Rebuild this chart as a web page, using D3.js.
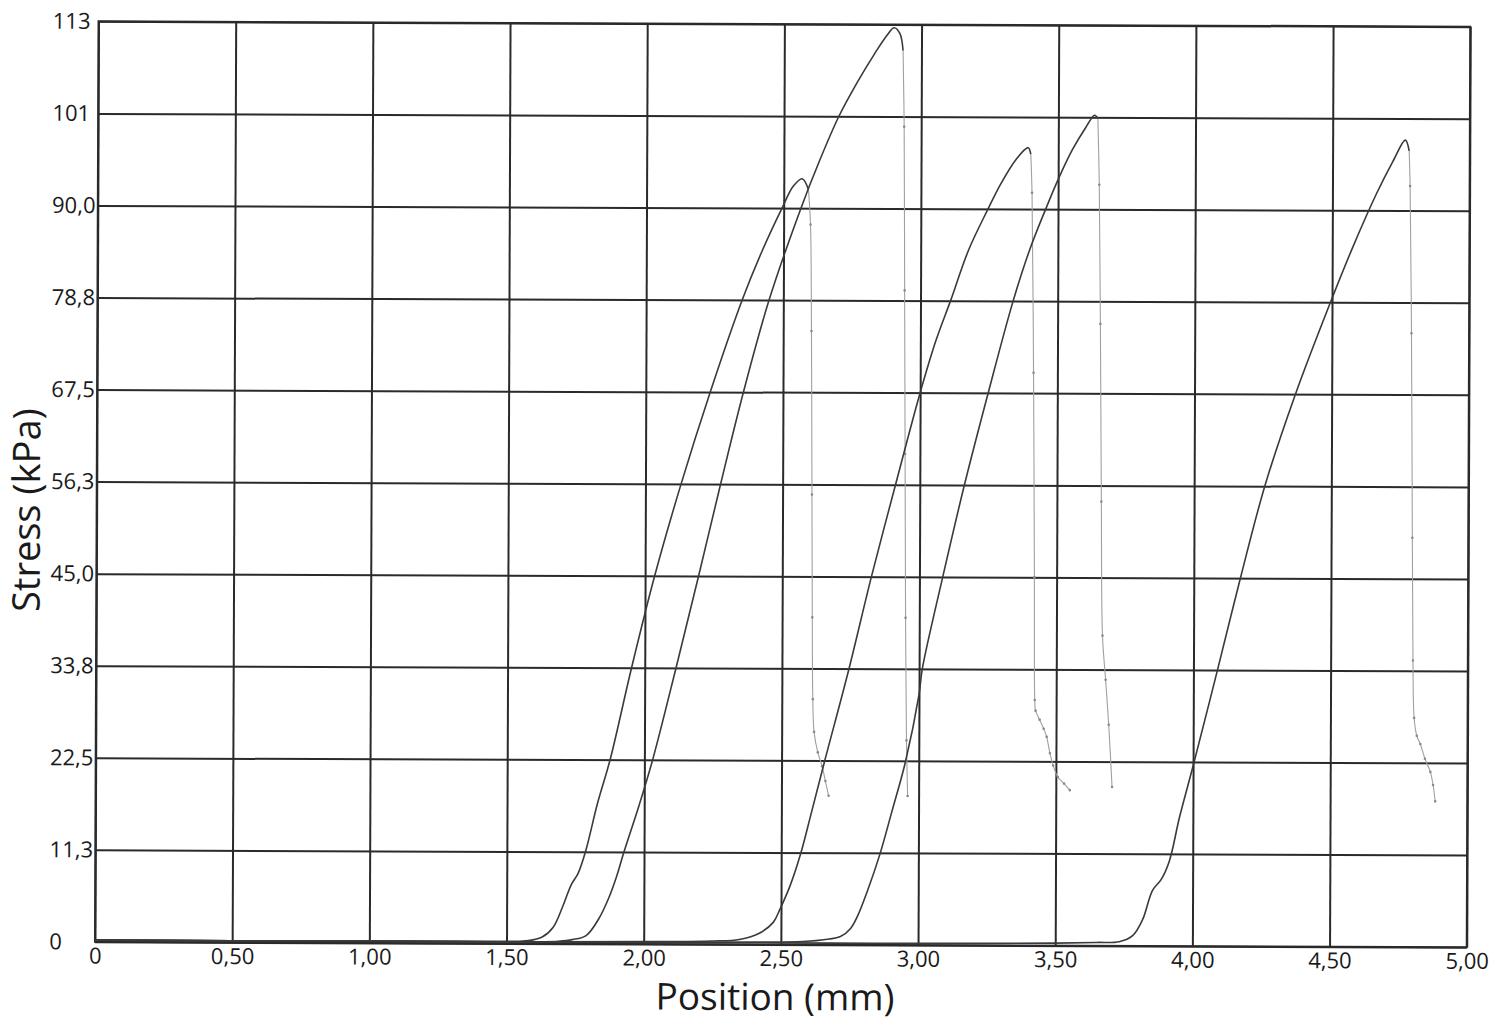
<!DOCTYPE html>
<html><head><meta charset="utf-8">
<script src="https://cdn.jsdelivr.net/npm/d3@7"></script>
<style>body{margin:0;background:#fff}svg{display:block}</style>
</head><body><svg id="c" width="1509" height="1021"></svg>
<script>
// ---- tick values and labels ----
const xTicks = [0, 0.5, 1.0, 1.5, 2.0, 2.5, 3.0, 3.5, 4.0, 4.5, 5.0];
const xTickLabels = ["0", "0,50", "1,00", "1,50", "2,00", "2,50", "3,00", "3,50", "4,00", "4,50", "5,00"];
const yTicks = [0, 11.25, 22.5, 33.75, 45, 56.25, 67.5, 78.75, 90, 101.25, 112.5];
const yTickLabels = ["0", "11,3", "22,5", "33,8", "45,0", "56,3", "67,5", "78,8", "90,0", "101", "113"];
const xTitle = "Position (mm)";
const yTitle = "Stress (kPa)";

// ---- series: [position mm, stress kPa], loading part and failure (drop) part ----
const loadA = [[0,0.2],[0.5,0.15],[1.0,0.2],[1.5,0.25],[1.58,0.35],[1.63,0.8],[1.67,2.0],[1.705,4.6],[1.735,7.2],[1.76,8.6],[1.787,11.3],[1.83,17.2],[1.875,22.5],[1.952,33.75],[2.035,45],[2.130,56.25],[2.235,67.5],[2.350,78.75],[2.42,84.6],[2.494,90],[2.535,92.7],[2.567,93.6],[2.59,92.3]];
const dropA = [[2.59,92.3],[2.598,88],[2.603,75],[2.607,55],[2.610,40],[2.613,30],[2.618,26],[2.632,23.5],[2.648,21.8],[2.66,20],[2.672,18.2]];

const loadB = [[0,0.25],[0.5,0.2],[1.0,0.2],[1.5,0.2],[1.689,0.3],[1.74,0.5],[1.79,1.0],[1.835,3.0],[1.872,5.6],[1.90,8.2],[1.927,11.25],[1.98,16.8],[2.03,22.5],[2.114,33.75],[2.195,45],[2.274,56.25],[2.356,67.5],[2.448,78.75],[2.563,90],[2.63,95.8],[2.700,101.25],[2.768,105.5],[2.829,108.9],[2.875,111.2],[2.900,112.1],[2.921,111.4],[2.933,109.3]];
const dropB = [[2.933,109.3],[2.938,100],[2.942,80],[2.946,60],[2.950,40],[2.955,25],[2.960,18.2]];

const loadC = [[0,0.2],[0.5,0.2],[1.0,0.25],[1.5,0.2],[2.0,0.3],[2.25,0.4],[2.349,0.6],[2.423,1.4],[2.472,2.7],[2.496,4.3],[2.533,7.2],[2.570,11.0],[2.607,15.8],[2.656,22.3],[2.745,33.8],[2.825,45.0],[2.912,56.3],[3.0,67.5],[3.058,74.0],[3.11,78.8],[3.175,85.0],[3.245,90.0],[3.29,93.0],[3.345,96.0],[3.390,97.5],[3.400,96.7]];
const dropC = [[3.400,96.7],[3.405,92],[3.413,70],[3.419,45],[3.422,30],[3.425,28.7],[3.44,27.6],[3.455,26.5],[3.466,25.5],[3.478,23.5],[3.49,22.0],[3.507,20.6],[3.53,19.8],[3.551,19.0]];

const loadD = [[0,0.2],[0.5,0.2],[1.0,0.2],[1.5,0.2],[2.0,0.2],[2.5,0.3],[2.595,0.4],[2.656,0.6],[2.717,1.0],[2.754,2.0],[2.779,3.5],[2.816,6.7],[2.859,11.0],[2.902,16.2],[2.951,22.3],[3.0,30.6],[3.012,33.8],[3.085,45.0],[3.163,56.3],[3.248,67.5],[3.338,78.8],[3.397,85.0],[3.455,90.0],[3.505,94.0],[3.552,97.3],[3.600,100.0],[3.632,101.5],[3.644,101.1]];
const dropD = [[3.644,101.1],[3.650,93],[3.656,76],[3.662,54.3],[3.668,37.9],[3.680,32.5],[3.692,27.0],[3.705,19.4]];

const loadE = [[0,0.2],[0.5,0.2],[1.0,0.2],[1.5,0.2],[2.0,0.2],[2.5,0.2],[3.0,0.2],[3.5,0.3],[3.65,0.4],[3.733,0.5],[3.782,1.25],[3.818,3.2],[3.854,6.8],[3.885,8.1],[3.915,10.4],[3.951,15.7],[4.0,22.0],[4.088,33.8],[4.170,45.0],[4.258,56.3],[4.368,67.5],[4.495,78.8],[4.575,85.5],[4.66,92.0],[4.72,96.0],[4.765,98.6],[4.779,97.3]];
const dropE = [[4.779,97.3],[4.783,93],[4.79,75],[4.796,50],[4.80,35],[4.805,28],[4.815,25.8],[4.828,24.8],[4.845,23],[4.865,21.4],[4.875,19.8],[4.883,17.8]];

const loads = [loadA, loadB, loadC, loadD, loadE];
const drops = [dropA, dropB, dropC, dropD, dropE];

// ---- layout ----
const W = 1509, H = 1021;
const m = {left: 96.75, right: 1468.5, top: 24, bottom: 944.5};
const FONT = "'Open Sans','Noto Sans','DejaVu Sans',sans-serif";

const svg = d3.select('#c');
svg.append('rect').attr('width', W).attr('height', H).attr('fill', '#fff');
const g = svg.append('g').attr('transform', 'rotate(0.22,782,484)');

const x = d3.scaleLinear().domain([0, 5]).range([m.left, m.right]);
const y = d3.scaleLinear().domain([0, 112.5]).range([m.bottom, m.top]);

// x axis + vertical grid
const gx = g.append('g').attr('transform', `translate(0,${m.bottom})`)
  .call(d3.axisBottom(x).tickValues(xTicks).tickSize(-(m.bottom - m.top)).tickSizeOuter(0)
    .tickPadding(6).tickFormat((d, i) => xTickLabels[i]));
gx.select('.domain').remove();
gx.selectAll('.tick line').attr('stroke', '#2a2a2a').attr('stroke-width', 2);
gx.selectAll('.tick text').attr('font-family', FONT).attr('font-size', 22).attr('fill', '#1a1a1a');

// y axis + horizontal grid
const gy = g.append('g').attr('transform', `translate(${m.left},0)`)
  .call(d3.axisLeft(y).tickValues(yTicks).tickSize(-(m.right - m.left)).tickSizeOuter(0)
    .tickFormat((d, i) => yTickLabels[i]));
gy.select('.domain').remove();
gy.selectAll('.tick line').attr('stroke', '#2a2a2a').attr('stroke-width', 2);
gy.selectAll('.tick text').attr('font-family', FONT).attr('font-size', 22).attr('fill', '#1a1a1a')
  .attr('text-anchor', 'start').attr('x', 51 - m.left);

// frame
g.append('rect').attr('x', m.left).attr('y', m.top).attr('width', m.right - m.left).attr('height', m.bottom - m.top)
  .attr('fill', 'none').attr('stroke', '#2a2a2a').attr('stroke-width', 2);

// curves
const line = d3.line().x(d => x(d[0])).y(d => y(d[1])).curve(d3.curveCatmullRom.alpha(0.5));
g.append('g').selectAll('path.drop').data(drops).join('path').attr('class', 'drop')
  .attr('d', line).attr('fill', 'none').attr('stroke', '#a0a0a0').attr('stroke-width', 1.1);
drops.forEach(dr => {
  g.append('g').selectAll('circle').data(dr.slice(1)).join('circle')
    .attr('cx', d => x(d[0])).attr('cy', d => y(d[1])).attr('r', 1.3).attr('fill', '#8a8a8a');
});
g.append('g').selectAll('path.load').data(loads).join('path').attr('class', 'load')
  .attr('d', line).attr('fill', 'none').attr('stroke', '#3a3a3a').attr('stroke-width', 1.6);

// titles
g.append('text').attr('x', 777).attr('y', 1010).attr('text-anchor', 'middle')
  .attr('font-family', FONT).attr('font-size', 37).attr('fill', '#1a1a1a').text(xTitle);
g.append('text').attr('transform', 'translate(40,513) rotate(-90)').attr('text-anchor', 'middle')
  .attr('font-family', FONT).attr('font-size', 38).attr('fill', '#1a1a1a').text(yTitle);
</script>
</body></html>
